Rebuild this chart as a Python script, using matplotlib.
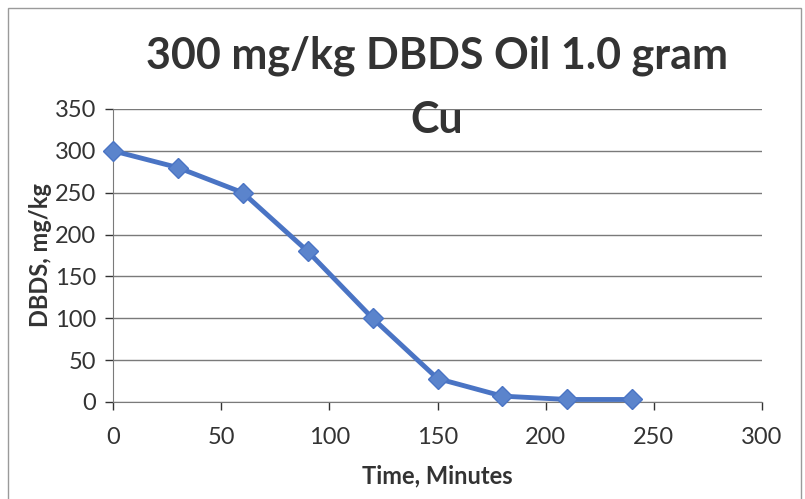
import matplotlib.pyplot as plt
from matplotlib.patches import Rectangle

# Time (minutes) vs DBDS concentration (mg/kg)
time_min = [0, 30, 60, 90, 120, 150, 180, 210, 240]
dbds = [300, 280, 250, 180, 100, 28, 7, 3, 3]

x_ticks = [0, 50, 100, 150, 200, 250, 300]
y_ticks = [0, 50, 100, 150, 200, 250, 300, 350]

plt.rcParams['font.family'] = ['Lato', 'DejaVu Sans']

fig = plt.figure(figsize=(8.05, 4.99), dpi=100)
ax = fig.add_axes([0.1404, 0.1944, 0.8062, 0.5872])

# outer chart border
fig.patches.append(Rectangle((0.010, -0.01), 0.985, 0.994, transform=fig.transFigure,
                             fill=False, edgecolor='#9a9a9a', linewidth=1.0))

ax.plot(time_min, dbds, color='#4a74c4', linewidth=3.5, marker='D',
        markersize=10, markerfacecolor='#5b84cc', markeredgecolor='#4a74c4',
        zorder=3, clip_on=False)

ax.set_xlim(0, 300)
ax.set_ylim(0, 350)
ax.set_xticks(x_ticks)
ax.set_yticks(y_ticks)
ax.tick_params(axis='both', labelsize=17, colors='#333333', length=6, width=1,
               direction='out', pad=6)
ax.tick_params(axis='x', pad=12)
ax.grid(axis='y', color='#7a7a7a', linewidth=1.0)
ax.set_axisbelow(True)
for s in ['top', 'right']:
    ax.spines[s].set_visible(False)
ax.spines['left'].set_color('#7a7a7a')
ax.spines['bottom'].set_color('#7a7a7a')

ax.set_xlabel('Time, Minutes', fontsize=17, fontweight='bold', color='#333333', labelpad=12)
ax.set_ylabel('DBDS, mg/kg', fontsize=17, fontweight='bold', color='#333333', labelpad=2)

fig.text(0.543, 0.888, '300 mg/kg DBDS Oil 1.0 gram', ha='center', va='center',
         fontsize=31, fontweight='bold', color='#333333')
fig.text(0.543, 0.76, 'Cu', ha='center', va='center',
         fontsize=31, fontweight='bold', color='#333333')

fig.savefig('out.png', dpi=100)
